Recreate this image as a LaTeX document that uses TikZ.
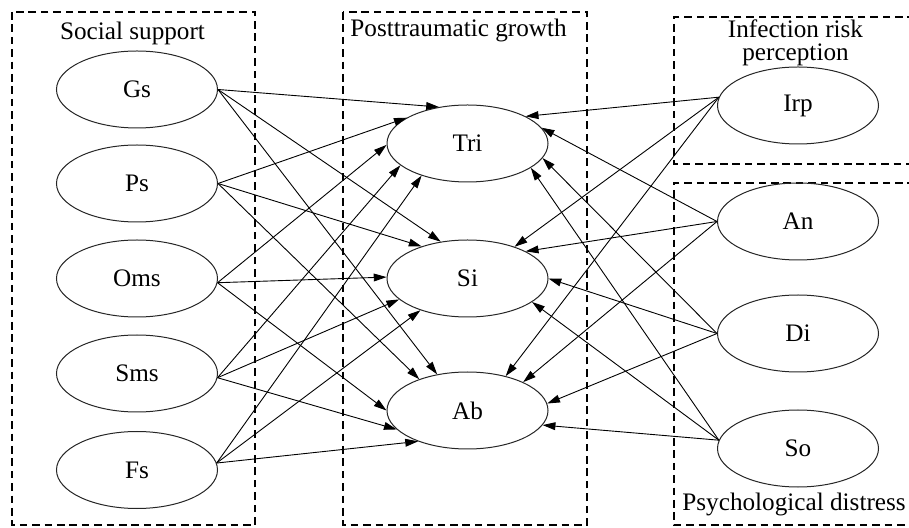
\documentclass[tikz,border=0pt]{standalone}
\usepackage{fontspec}
\setmainfont{Liberation Serif}
\usetikzlibrary{arrows.meta,shapes.geometric}

\begin{document}
\begin{tikzpicture}[x=0.5pt,y=-0.5pt,
  var/.style={ellipse,draw=black!85,line width=0.5pt,minimum width=80.5pt,minimum height=38.5pt,inner sep=0pt,font=\fontsize{12.6}{14}\selectfont},
  group/.style={draw=black,line width=1.2pt,dash pattern=on 3.8pt off 2.4pt},
  grouplabel/.style={font=\fontsize{12.6}{11.6}\selectfont,inner sep=0pt},
  effect/.style={-{Triangle[length=6.4pt,width=3.9pt]},line width=0.45pt}]
\useasboundingbox (0,0) rectangle (909,528);

% groups
\draw[group] (12,12) rectangle (255,525);
\draw[group] (343,12) rectangle (587,525);
\draw[group] (915,17) -- (674,17) -- (674,164) -- (915,164);
\draw[group] (915,183) -- (674,183) -- (674,525) -- (915,525);

\node[grouplabel,anchor=base] (lsoc) at (132.5,40) {Social support};
\node[grouplabel,anchor=base west] (lptg) at (350,37) {Posttraumatic growth};
\node[grouplabel,align=center] (lirp) at (795.5,43) {Infection risk\\perception};
\node[grouplabel,anchor=base west] (lpd) at (682,510) {Psychological distress};

% social support
\node[var] (Gs)  at (137,89.5)  {Gs};
\node[var] (Ps)  at (137,183.5) {Ps};
\node[var] (Oms) at (137,278.5) {Oms};
\node[var] (Sms) at (137,373.5) {Sms};
\node[var] (Fs)  at (137,470)   {Fs};
% posttraumatic growth
\node[var] (Tri) at (467.5,143.5) {Tri};
\node[var] (Si)  at (467.5,278.5) {Si};
\node[var] (Ab)  at (467.5,410.5) {Ab};
% risk perception, distress
\node[var] (Irp) at (798,105.5) {Irp};
\node[var] (An)  at (798,221.5) {An};
\node[var] (Di)  at (798,333.5) {Di};
\node[var] (So)  at (798,448.5) {So};

% paths: source/anchor -> Tri, Si, Ab (angles at the heads)
\foreach \s/\a/\p/\q/\r in {Gs/0/128/126/130, Ps/0/157/145/147, Oms/-3/181/179/180,
    Sms/-3/198/197/195, Fs/5/215/214/212, Irp/174/25/34/42, An/180/12/25/27,
    Di/180/-11/0/5, So/174/-21/-20/-11}
{
  \draw[effect] (\s.\a) -- (Tri.\p);
  \draw[effect] (\s.\a) -- (Si.\q);
  \draw[effect] (\s.\a) -- (Ab.\r);
}

\end{tikzpicture}
\end{document}
